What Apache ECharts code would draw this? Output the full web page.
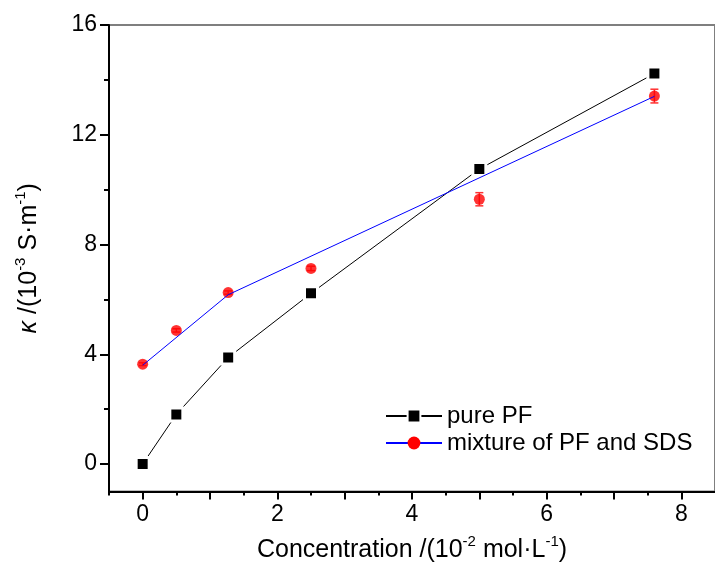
<!DOCTYPE html>
<html>
<head>
<meta charset="utf-8">
<script src="https://cdn.jsdelivr.net/npm/echarts@6/dist/echarts.min.js"></script>
<style>
  html, body { margin: 0; padding: 0; background: #fff; }
  #main { width: 715px; height: 568px; }
</style>
</head>
<body>
<div id="main"></div>
<script>
// concentration, 10^-2 mol/L
let conc = [0, 0.5, 1.27, 2.5, 5, 7.6];
// conductivity, 10^-3 S/m
let purePF = [0, 1.81, 3.88, 6.22, 10.75, 14.23];
let mixture = [3.64, 4.87, 6.25, 7.13, 9.65, 13.41];
let mixtureErr = [0.05, 0.06, 0.06, 0.08, 0.24, 0.25];
// the blue guide line drawn through the mixture data
let fitX = [0, 1.27, 7.6];
let fitY = [3.6, 6.17, 13.4];

let xMajor = [0, 1, 2, 3, 4, 5, 6, 7, 8];
let xMinor = [-0.5, 0.5, 1.5, 2.5, 3.5, 4.5, 5.5, 6.5, 7.5];
let xLabels = [0, 2, 4, 6, 8];
let yMajor = [0, 4, 8, 12, 16];
let yMinor = [2, 6, 10, 14];

let font = "'Liberation Sans', Arial, sans-serif";

function pairs(xs, ys){
  return xs.map((x, i) => [x, ys[i]]);
}

let chart = echarts.init(document.getElementById('main'));

let xBase = {
  type: 'value',
  min: -0.5,
  max: 8.5,
  position: 'bottom',
  splitLine: {show: false}
};
let yBase = {
  type: 'value',
  min: -1,
  max: 16,
  position: 'left',
  splitLine: {show: false}
};

// rich styles for the axis titles (superscripts raised)
let titleRich = {
  n: {fontFamily: font, fontSize: 25, color: '#000', lineHeight: 32},
  it: {fontFamily: font, fontStyle: 'italic', fontSize: 25, color: '#000', lineHeight: 32},
  sup: {fontFamily: font, fontSize: 15, color: '#000', lineHeight: 14, verticalAlign: 'top'}
};

let option = {
  animation: false,
  backgroundColor: '#fff',
  textStyle: {fontFamily: font},
  grid: {
    left: 109,
    right: -5,
    top: 25,
    bottom: 75,
    show: true,
    borderColor: '#7f7f7f',
    borderWidth: 2
  },
  legend: {
    orient: 'vertical',
    left: 380,
    top: 399,
    itemWidth: 56,
    itemHeight: 16,
    itemGap: 3,
    textStyle: {fontFamily: font, fontSize: 24, color: '#000'},
    data: ['pure PF', 'mixture of PF and SDS']
  },
  xAxis: [
    Object.assign({}, xBase, {
      name: '{n|Concentration /(10}{sup|-2}{n| mol·L}{sup|-1}{n|)}',
      nameLocation: 'middle',
      nameGap: 43,
      nameTextStyle: {fontFamily: font, fontSize: 25, color: '#000', rich: titleRich},
      axisLine: {onZero: false, lineStyle: {color: '#000', width: 2}},
      axisTick: {customValues: xMajor, length: 8, lineStyle: {color: '#000', width: 2}},
      axisLabel: {customValues: xLabels, fontFamily: font, fontSize: 23, color: '#000', margin: 12}
    }),
    Object.assign({}, xBase, {
      axisLine: {show: false, onZero: false},
      axisTick: {customValues: xMinor, length: 4, lineStyle: {color: '#000', width: 2}},
      axisLabel: {show: false}
    })
  ],
  yAxis: [
    Object.assign({}, yBase, {
      name: '{it|κ}{n| /(10}{sup|-3}{n| S·m}{sup|-1}{n|)}',
      nameLocation: 'middle',
      nameRotate: 90,
      nameGap: 64,
      nameTextStyle: {fontFamily: font, fontSize: 25, color: '#000', rich: titleRich},
      axisLine: {onZero: false, lineStyle: {color: '#000', width: 2}},
      axisTick: {customValues: yMajor, length: 9, lineStyle: {color: '#000', width: 2}},
      axisLabel: {customValues: yMajor, fontFamily: font, fontSize: 23, color: '#000', margin: 12}
    }),
    Object.assign({}, yBase, {
      axisLine: {show: false, onZero: false},
      axisTick: {customValues: yMinor, length: 5, lineStyle: {color: '#000', width: 2}},
      axisLabel: {show: false}
    })
  ],
  series: [
    {
      name: 'pure PF',
      type: 'line',
      data: pairs(conc, purePF),
      symbol: 'rect',
      symbolSize: 13,
      lineStyle: {color: '#000', width: 1},
      itemStyle: {color: '#000', borderColor: '#fff', borderWidth: 3},
      z: 3
    },
    {
      name: 'mixture of PF and SDS',
      type: 'line',
      data: pairs(fitX, fitY),
      symbol: 'circle',
      symbolSize: 11,
      showSymbol: false,
      lineStyle: {color: '#0000ff', width: 1},
      itemStyle: {color: '#ff0000'},
      z: 5
    },
    {
      name: 'mixture of PF and SDS',
      type: 'custom',
      data: conc.map((x, i) => [x, mixture[i] - mixtureErr[i], mixture[i] + mixtureErr[i]]),
      renderItem: function(params, api){
        let lo = api.coord([api.value(0), api.value(1)]);
        let hi = api.coord([api.value(0), api.value(2)]);
        let w = 4;
        let st = {stroke: '#ff3030', lineWidth: 1.5};
        return {
          type: 'group',
          children: [
            {type: 'line', shape: {x1: lo[0], y1: lo[1], x2: hi[0], y2: hi[1]}, style: st},
            {type: 'line', shape: {x1: lo[0] - w, y1: lo[1], x2: lo[0] + w, y2: lo[1]}, style: st},
            {type: 'line', shape: {x1: hi[0] - w, y1: hi[1], x2: hi[0] + w, y2: hi[1]}, style: st}
          ]
        };
      },
      z: 3
    },
    {
      name: 'mixture of PF and SDS',
      type: 'scatter',
      data: pairs(conc, mixture),
      symbol: 'circle',
      symbolSize: 11,
      itemStyle: {color: '#ff0000'},
      z: 4
    }
  ]
};

chart.setOption(option);
</script>
</body>
</html>
